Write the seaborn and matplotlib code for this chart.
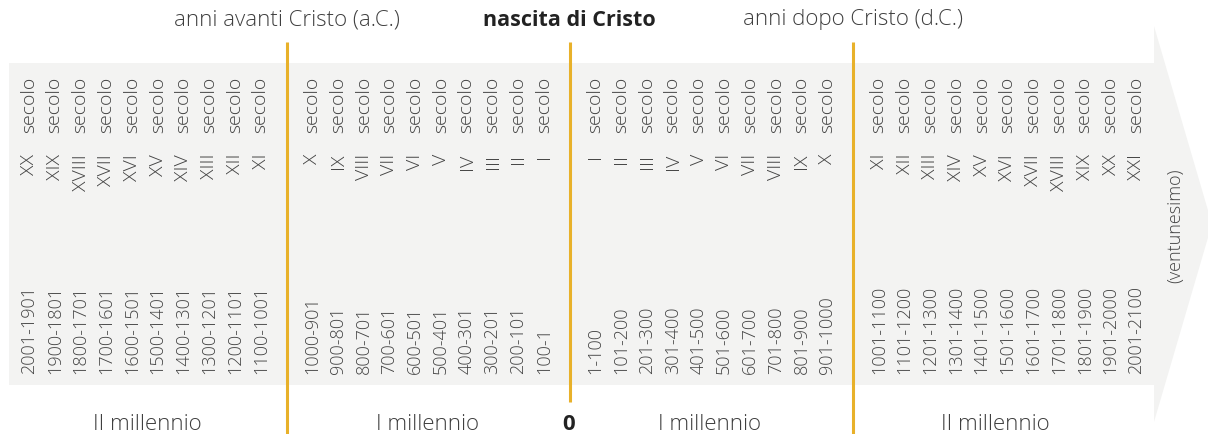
import matplotlib
matplotlib.use("Agg")
import matplotlib.pyplot as plt
import seaborn as sns
from matplotlib.patches import Polygon, Rectangle

# Data: centuries before and after Christ
bc_ii_roman = ["XX", "XIX", "XVIII", "XVII", "XVI", "XV", "XIV", "XIII", "XII", "XI"]
bc_ii_years = ["2001-1901", "1900-1801", "1800-1701", "1700-1601", "1600-1501",
               "1500-1401", "1400-1301", "1300-1201", "1200-1101", "1100-1001"]
bc_i_roman = ["X", "IX", "VIII", "VII", "VI", "V", "IV", "III", "II", "I"]
bc_i_years = ["1000-901", "900-801", "800-701", "700-601", "600-501",
              "500-401", "400-301", "300-201", "200-101", "100-1"]
ad_i_roman = ["I", "II", "III", "IV", "V", "VI", "VII", "VIII", "IX", "X"]
ad_i_years = ["1-100", "101-200", "201-300", "301-400", "401-500",
              "501-600", "601-700", "701-800", "801-900", "901-1000"]
ad_ii_roman = ["XI", "XII", "XIII", "XIV", "XV", "XVI", "XVII", "XVIII", "XIX", "XX", "XXI"]
ad_ii_years = ["1001-1100", "1101-1200", "1201-1300", "1301-1400", "1401-1500",
               "1501-1600", "1601-1700", "1701-1800", "1801-1900", "1901-2000", "2001-2100"]

headers = ["anni avanti Cristo (a.C.)", "nascita di Cristo", "anni dopo Cristo (d.C.)"]
millennia = ["II millennio", "I millennio", "0", "I millennio", "II millennio"]

sns.set_theme(style="white")
plt.rcParams['font.family'] = ['Open Sans', 'DejaVu Sans']

W, H = 1208, 435
fig = plt.figure(figsize=(W / 100, H / 100), dpi=100)
ax = fig.add_axes([0, 0, 1, 1])
ax.set_xlim(0, W)
ax.set_ylim(H, 0)
ax.axis("off")

band = "#f3f3f2"
orange = "#e8b12a"
txt = "#444444"
lw_txt = "light"

# grey band with arrow head
ax.add_patch(Rectangle((9, 64), 1146, 322, color=band, lw=0, zorder=0))
ax.add_patch(Polygon([(1154, 27), (1212, 225), (1154, 423)], closed=True,
                     color=band, lw=0, zorder=0))

step = 25.75
x0 = 29
groups = [(bc_ii_roman, bc_ii_years, 0), (bc_i_roman, bc_i_years, 11),
          (ad_i_roman, ad_i_years, 22), (ad_ii_roman, ad_ii_years, 33)]
fs = 13
for romans, years, start in groups:
    for k, (r, y) in enumerate(zip(romans, years)):
        x = x0 + step * (start + k)
        ax.text(x, 77, "secolo", rotation=90, ha="center", va="top",
                fontsize=fs + 1, color=txt, fontweight=lw_txt)
        ax.text(x, 154, r, rotation=90, ha="center", va="top",
                fontsize=fs + 1, color=txt, fontweight=lw_txt)
        ax.text(x, 374, y, rotation=90, ha="center", va="bottom",
                fontsize=fs, color=txt, fontweight=lw_txt)

ax.text(x0 + step * 44.5, 226, "(ventunesimo)", rotation=90, ha="center",
        va="center", fontsize=fs, color=txt, fontweight=lw_txt)

# divider lines
for slot, bottom in [(10, 435), (21, 403), (32, 435)]:
    xl = x0 + step * slot
    ax.plot([xl, xl], [43, bottom], color=orange, lw=2.2, zorder=3,
            solid_capstyle="butt")

# headers
hx = [x0 + step * 10, x0 + step * 21, x0 + step * 32]
for t, x in zip(headers, hx):
    bold = t == "nascita di Cristo"
    ax.text(x, 20, t, ha="center", va="center",
            fontsize=15.5 if bold else 16,
            color="#222222" if bold else "#3f3f3f",
            fontweight="bold" if bold else lw_txt)

# millennium labels
mx = [147, 427, 569, 710, 995]
for t, x in zip(millennia, mx):
    bold = t == "0"
    ax.text(x, 425, t, ha="center", va="center", fontsize=16,
            color="#222222" if bold else "#3f3f3f",
            fontweight="bold" if bold else lw_txt)

fig.savefig("out.png", dpi=100, facecolor="white")
